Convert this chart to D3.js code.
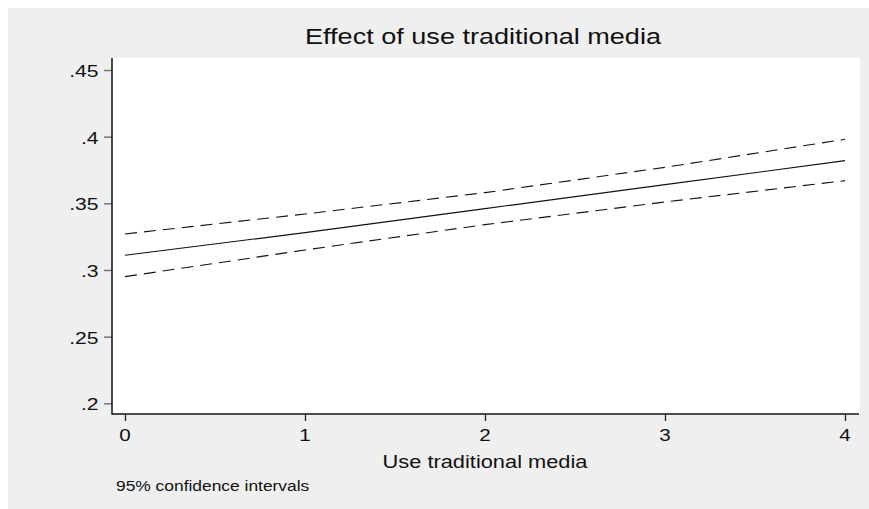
<!DOCTYPE html>
<html>
<head>
<script src="https://d3js.org/d3.v7.min.js" charset="utf-8"></script>
<style>
    body{ margin:0; background:white; font-family:"Liberation Sans", Arial, helvetica; }
</style>
</head>
<body>
<div id="chart"></div>
<script>

    // data
    var xValues = [0, 1, 2, 3, 4]
    var margin = [0.311, 0.328, 0.346, 0.364, 0.382]
    var lowerCI = [0.295, 0.315, 0.334, 0.351, 0.367]
    var upperCI = [0.327, 0.342, 0.358, 0.377, 0.398]
    var xTicks = [0, 1, 2, 3, 4]
    var yTicks = [0.2, 0.25, 0.3, 0.35, 0.4, 0.45]
    var yTickLabels = [".2", ".25", ".3", ".35", ".4", ".45"]

    var W = 869, H = 509
    var plot = {left:112, right:860, top:58, bottom:414}
    var stretch = 1.2

    var xScale = d3.scaleLinear().domain([0,4]).range([125,845])
    var yScale = d3.scaleLinear().domain([0.2,0.45]).range([403.3,70])

    var svg = d3.select("#chart").append("svg")
        .attr("width",W).attr("height",H)

    svg.append("rect").attr("x",8).attr("y",8).attr("width",W-8).attr("height",H-8)
        .attr("fill","#efefef")

    svg.append("rect").attr("x",plot.left).attr("y",plot.top)
        .attr("width",plot.right-plot.left).attr("height",plot.bottom-plot.top)
        .attr("fill","white")

    function stretchedText(txt,x,y,size,anchor,sx){
        return svg.append("text").text(txt)
            .attr("transform","translate("+x+","+y+") scale("+sx+",1)")
            .attr("font-size",size)
            .attr("text-anchor",anchor)
            .attr("fill","#111")
    }

    // y axis
    var yAxis = d3.axisLeft(yScale).tickValues(yTicks).tickSize(8)
        .tickFormat(function(d,i){return yTickLabels[i]})
    var gy = svg.append("g").attr("transform","translate("+plot.left+",0)").call(yAxis)
    gy.select(".domain").remove()
    gy.selectAll(".tick line").attr("stroke","#777").attr("stroke-width",1.5)
    gy.selectAll(".tick text").remove()
    yTicks.forEach(function(t,i){
        stretchedText(yTickLabels[i],98.5,yScale(t)+7,16.5,"end",1.28)
    })

    // x axis
    var xAxis = d3.axisBottom(xScale).tickValues(xTicks).tickSize(7).tickFormat(d3.format("d"))
    var gx = svg.append("g").attr("transform","translate(0,"+plot.bottom+")").call(xAxis)
    gx.select(".domain").remove()
    gx.selectAll(".tick line").attr("stroke","#222").attr("stroke-width",1.3)
    gx.selectAll(".tick text").remove()
    xTicks.forEach(function(t){
        stretchedText(String(t),xScale(t),441,16.5,"middle",1.25)
    })

    // axis lines
    svg.append("line").attr("x1",plot.left).attr("x2",plot.left)
        .attr("y1",plot.top).attr("y2",plot.bottom+0.5)
        .attr("stroke","#111").attr("stroke-width",1.5)
    svg.append("line").attr("x1",plot.left).attr("x2",plot.right-1)
        .attr("y1",plot.bottom).attr("y2",plot.bottom)
        .attr("stroke","#111").attr("stroke-width",1.5)

    // lines
    var line = d3.line().x(function(d){return xScale(d[0])}).y(function(d){return yScale(d[1])})
    function pairs(vals){ return xValues.map(function(x,i){return [x,vals[i]]}) }

    svg.append("path").attr("d",line(pairs(upperCI))).attr("fill","none")
        .attr("stroke","#111").attr("stroke-width",1.1).attr("stroke-dasharray","12,7")
    svg.append("path").attr("d",line(pairs(lowerCI))).attr("fill","none")
        .attr("stroke","#111").attr("stroke-width",1.1).attr("stroke-dasharray","12,7")
    svg.append("path").attr("d",line(pairs(margin))).attr("fill","none")
        .attr("stroke","#111").attr("stroke-width",1.1)

    // texts
    stretchedText("Effect of use traditional media",483,44,22,"middle",1.23)
    stretchedText("Use traditional media",485,468,18.5,"middle",1.18)
    stretchedText("95% confidence intervals",116,491,14.5,"start",1.2)

</script>
</body>
</html>
